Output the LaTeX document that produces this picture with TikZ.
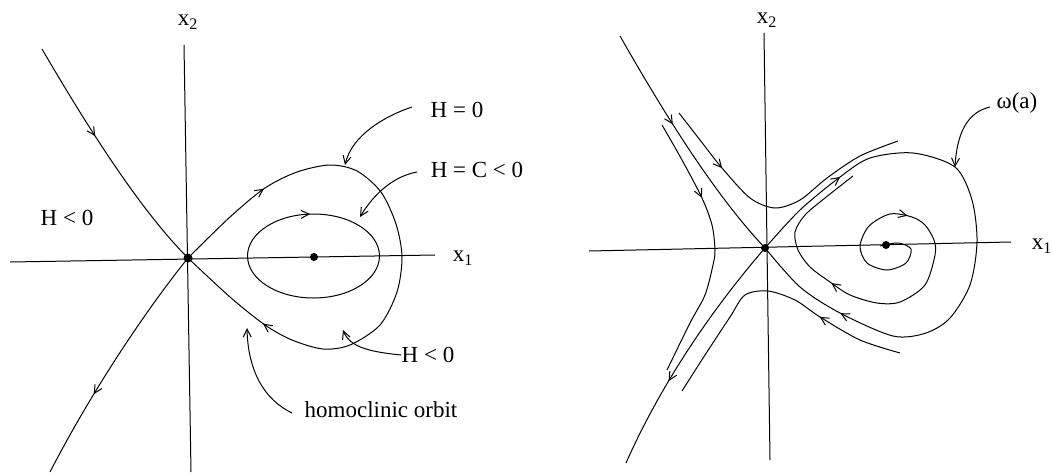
\documentclass[tikz,border=0pt]{standalone}
\usepackage{fontspec}
\setmainfont{Liberation Serif}
\usetikzlibrary{arrows.meta,decorations.markings}
\begin{document}
\begin{tikzpicture}[x=1pt,y=-1pt,
  line width=1pt,
  every node/.style={font=\fontsize{23}{27}\selectfont, inner sep=0pt},
  tip/.style={-{Straight Barb[length=8pt,width=8pt]}},
  arrowat/.style={postaction={decorate,decoration={markings,mark=at position #1 with {\arrow{Straight Barb[length=8pt,width=8pt]}}}}},
  dot/.style={circle,fill=black,inner sep=0pt,minimum size=9pt},
]
\useasboundingbox (0,0) rectangle (1052,474);

% ---------- left panel ----------
\coordinate (S1) at (188,258);
\coordinate (C1) at (314,257);
\coordinate (axL1) at (10,262);
\coordinate (axL2) at (435,255);
\coordinate (axL3) at (184,45);
\coordinate (axL4) at (191,472);
\draw (axL1) -- (axL2);
\draw (axL3) -- (axL4);
\node (x2L) at (188,22) {x\textsubscript{2}};
\node (x1L) at (463,258) {x\textsubscript{1}};

\coordinate (stL) at (42,49);
\draw[arrowat=0.4] (stL) .. controls (95,140) and (145,215) .. (S1);
\coordinate (unL) at (50,472);
\draw[arrowat=0.65] (S1) .. controls (150,305) and (95,385) .. (unL);
\draw[arrowat=0.17, arrowat=0.835] plot[smooth] coordinates {(188,258) (230,217) (265,188) (297,172) (330,165) (357,171) (381,192) (396,224) (402,257) (397,292) (380,325) (350,345) (323,349) (292,340) (265,325) (230,297) (188,258)};
\draw[arrowat=0.74] (313.5,256) ellipse [x radius=66, y radius=42];

\node[dot] (s1dot) at (S1) {};
\node[dot,minimum size=8pt] (c1dot) at (C1) {};

\node (Hzero) at (457,110) {H = 0};
\coordinate (h0a) at (412,107);
\coordinate (h0b) at (345,165);
\draw[tip] (h0a) .. controls (385,116) and (352,135) .. (h0b);

\node (HC) at (477,170) {H = C < 0};
\coordinate (hca) at (417,172);
\coordinate (hcb) at (360,217);
\draw[tip] (hca) .. controls (395,176) and (375,192) .. (hcb);

\node (Hneg) at (428,355) {H < 0};
\coordinate (hna) at (Hneg.west);
\coordinate (hnb) at (343,330);
\draw[tip] (hna) .. controls (372,352) and (350,348) .. (hnb);

\node (homo) at (381,410) {homoclinic orbit};
\coordinate (hoa) at (292,413);
\coordinate (hob) at (247,328);
\draw[tip] (hoa) .. controls (265,400) and (248,372) .. (hob);

\node (HnegL) at (67,218) {H < 0};

% ---------- right panel ----------
\coordinate (S2) at (765,248);
\coordinate (C2) at (886,245);
\coordinate (axR1) at (589,251);
\coordinate (axR2) at (1011,242);
\coordinate (axR3) at (764,33);
\coordinate (axR4) at (770,460);
\draw (axR1) -- (axR2);
\draw (axR3) -- (axR4);
\node (x2R) at (767,20) {x\textsubscript{2}};
\node (x1R) at (1042,246) {x\textsubscript{1}};

% stable / unstable manifolds on the left
\coordinate (stR) at (620,36);
\draw[arrowat=0.4] (stR) .. controls (665,115) and (715,195) .. (S2);
\coordinate (unR) at (626,463);
\draw[arrowat=0.64] (S2) .. controls (720,300) and (665,375) .. (unR);

% upper hyperbola
\draw[arrowat=0.25] plot[smooth] coordinates {(679,113) (700,140) (722,168) (750,198) (775,208) (800,200) (827,178) (860,156) (898,141)};
% left hyperbola
\draw[arrowat=0.31] plot[smooth] coordinates {(662,125) (682,160) (702,198) (712,225) (715,250) (713,265) (705,295) (690,323) (667,370)};
% lower hyperbola
\draw[arrowat=0.31] plot[smooth] coordinates {(900,353) (860,340) (820,317) (795,300) (768,291) (745,295) (730,317) (705,355) (682,391)};

% homoclinic loop omega(a)
\draw[arrowat=0.17, arrowat=0.835] plot[smooth] coordinates {(765,248) (800,210) (840,177) (870,158) (913,153) (955,167) (972,200) (977,242) (970,285) (950,318) (926,333) (893,336) (840,313) (800,287) (765,248)};

% spiral
\draw[arrowat=0.34, arrowat=0.71] plot[smooth] coordinates {(880,246) (898,243) (911,249) (906,263) (887,270) (867,263) (860,246) (869,226) (890,214) (912,217) (925,225) (934,240) (935,255) (925,285) (900,302) (877,303) (850,295) (830,282) (810,267) (798,250) (795,232) (805,215) (825,198) (853,176)};

\node[dot,minimum size=8pt] (s2dot) at (S2) {};
\node[dot,minimum size=8pt] (c2dot) at (C2) {};

\node (omega) at (1017,103) {ω(a)};
\coordinate (oma) at (990,107);
\coordinate (omb) at (955,167);
\draw[tip] (oma) .. controls (968,112) and (957,132) .. (omb);
\end{tikzpicture}
\end{document}
